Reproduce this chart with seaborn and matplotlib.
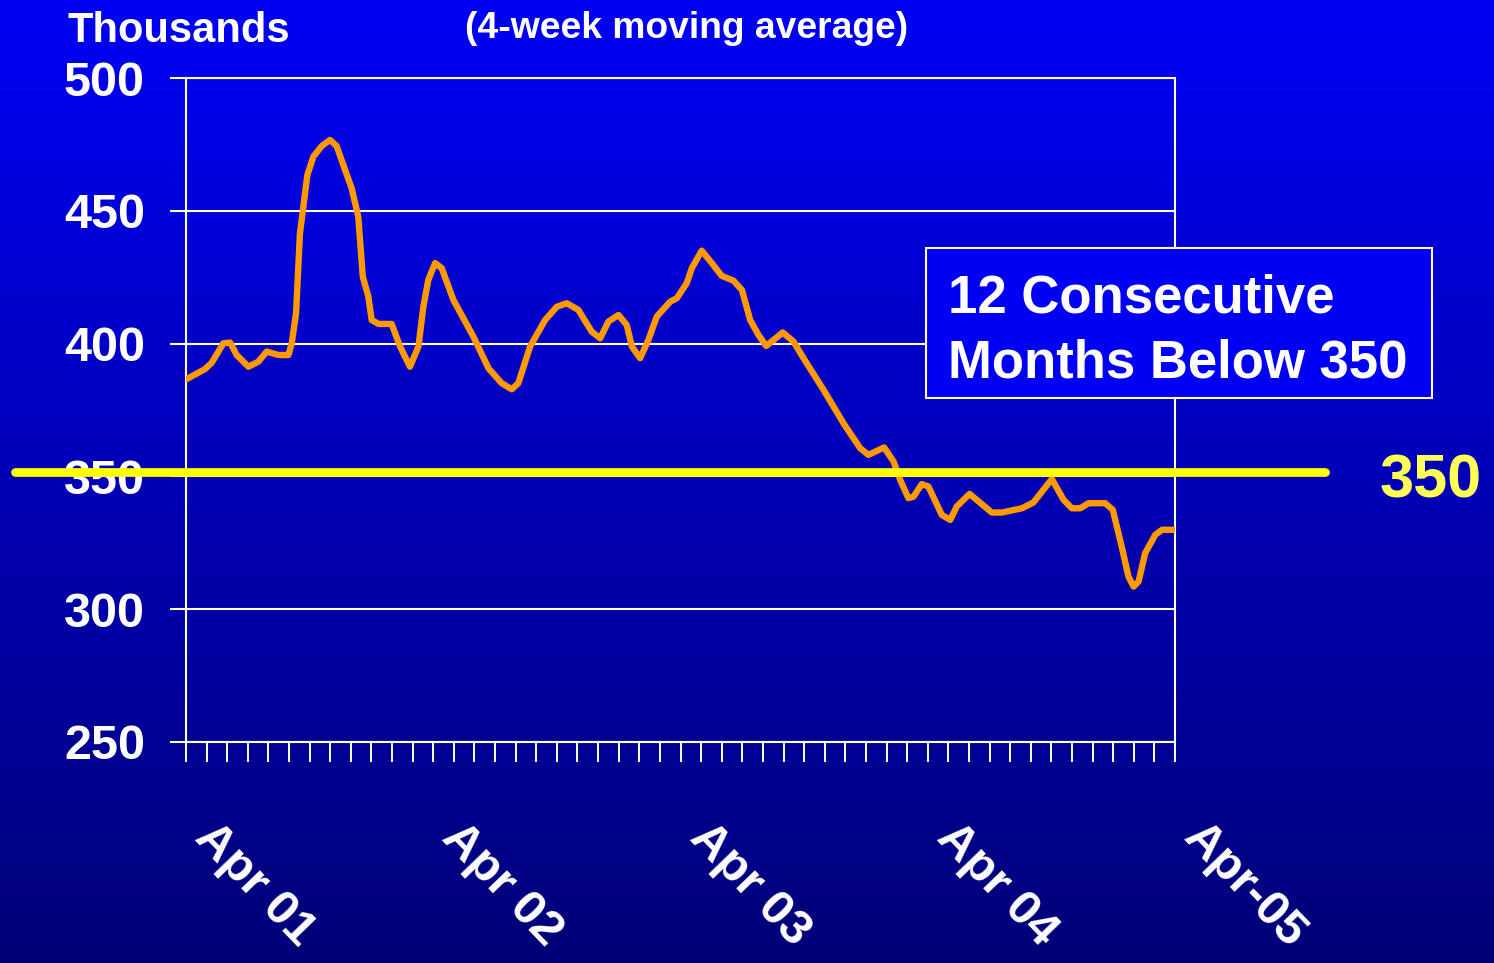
import numpy as np
import matplotlib
matplotlib.use("Agg")
import matplotlib.pyplot as plt
import seaborn as sns
from matplotlib.colors import LinearSegmentedColormap
from matplotlib.patches import Rectangle

# months since Apr 2001 and 4-week moving average of claims (thousands)
months = [0.0, 0.92, 1.25, 1.81, 2.14, 2.46, 3.03, 3.51, 3.92, 4.48, 4.97, 5.13, 5.34, 5.53,
          5.89, 6.18, 6.59, 6.99, 7.31, 7.72, 8.04, 8.36, 8.58, 8.85, 9.01, 9.34, 9.98, 10.39,
          10.87, 11.28, 11.52, 11.76, 12.09, 12.41, 12.98, 13.95, 14.68, 15.32, 15.81, 16.13,
          16.70, 17.43, 18.0, 18.48, 19.04, 19.69, 20.10, 20.50, 20.99, 21.39, 21.64, 22.04,
          22.44, 22.85, 23.50, 23.82, 24.30, 24.55, 25.03, 25.52, 26.0, 26.57, 26.98, 27.38,
          27.78, 28.16, 28.96, 29.48, 29.97, 30.94, 31.91, 32.72, 33.12, 33.88, 34.34, 34.66,
          35.06, 35.31, 35.71, 36.03, 36.68, 37.09, 37.41, 38.03, 38.46, 39.11, 39.60, 40.57,
          41.13, 42.02, 42.59, 42.99, 43.40, 43.80, 44.61, 44.98, 45.41, 45.74, 45.99, 46.23,
          46.55, 47.04, 47.37, 48.0]
claims = [386.5, 390.4, 392.8, 400.1, 400.4, 395.7, 391.3, 393.2, 397.0, 395.7, 395.7, 400.1,
          411.4, 441.5, 463.5, 470.4, 474.4, 476.7, 474.4, 465.4, 458.5, 447.8, 425.2, 417.7,
          408.9, 407.4, 407.4, 398.9, 391.3, 398.9, 413.9, 424.0, 430.3, 428.4, 416.4, 402.6,
          390.7, 385.1, 382.8, 385.1, 398.9, 408.9, 413.9, 415.2, 412.7, 404.5, 402.0, 408.3,
          410.8, 407.0, 398.9, 394.5, 401.4, 410.2, 415.8, 417.1, 422.7, 428.4, 435.0, 430.3,
          425.5, 423.7, 420.2, 408.9, 403.3, 399.1, 404.2, 400.8, 394.5, 382.6, 370.0, 360.6,
          358.1, 360.9, 355.6, 348.7, 341.8, 342.4, 347.1, 346.2, 335.5, 333.6, 338.7, 343.4,
          340.6, 336.4, 336.4, 338.0, 340.2, 349.0, 341.2, 338.0, 338.0, 339.9, 339.9, 337.4,
          323.6, 312.3, 308.5, 310.4, 321.1, 328.0, 329.9, 329.9]

threshold = 351.5
year_ticks = [0, 12, 24, 36, 48]
year_labels = ["Apr 01", "Apr 02", "Apr 03", "Apr 04", "Apr-05"]
y_ticks = [250, 300, 350, 400, 450, 500]

sns.set_style("ticks")
plt.rcParams["font.family"] = ["Liberation Sans", "DejaVu Sans"]

fig = plt.figure(figsize=(14.94, 9.63), dpi=100)

# blue gradient background
bg = fig.add_axes([0, 0, 1, 1], zorder=-10)
cmap = LinearSegmentedColormap.from_list("bluebg", ["#0000F5", "#000078"])
bg.imshow(np.linspace(0, 1, 256).reshape(-1, 1), aspect="auto", cmap=cmap,
          extent=[0, 1, 0, 1], origin="upper")
bg.axis("off")

ax = fig.add_axes([0.1245, 0.2295, 0.662, 0.6895])
ax.patch.set_alpha(0)

sns.lineplot(x=months, y=claims, ax=ax, color="#FF9900", linewidth=4.6, zorder=4)
ax.axhline(threshold, xmin=-0.173, xmax=1.152, color="#FFFF00", linewidth=6.3,
           clip_on=False, zorder=5)

ax.set_xlim(0, 48)
ax.set_ylim(250, 500)
ax.set_xlabel("")
ax.set_ylabel("")

ax.yaxis.grid(True, color="white", linewidth=1.5)
ax.xaxis.grid(False)
for s in ax.spines.values():
    s.set_color("white")
    s.set_linewidth(1.5)
    s.set_visible(True)

ax.set_yticks(y_ticks, labels=[str(t) for t in y_ticks], fontsize=35,
              fontweight="bold")
ax.tick_params(axis="y", direction="out", length=11.5, width=1.5, color="white",
               pad=18, labelcolor="white")

ax.set_xticks(range(49), minor=True)
ax.set_xticks(year_ticks, labels=year_labels, fontsize=35, fontweight="bold")
ax.tick_params(axis="x", which="both", direction="out", length=14.4, width=1.4,
               color="white")
ax.tick_params(axis="x", which="major", pad=38, labelcolor="white",
               labelrotation=-46)
for lbl in ax.get_xticklabels():
    lbl.set_ha("left")
    lbl.set_va("top")

# annotation box
fig.add_artist(Rectangle((0.6198, 0.5867), 0.3387, 0.1558, transform=fig.transFigure,
                         facecolor="#0000F5", edgecolor="white", linewidth=1.5, zorder=10))
fig.text(0.6345, 0.675, "12 Consecutive", color="white", fontsize=38,
         fontweight="bold", va="baseline", ha="left", zorder=11)
fig.text(0.6345, 0.6085, "Months Below 350", color="white", fontsize=38,
         fontweight="bold", va="baseline", ha="left", zorder=11)

fig.text(0.0455, 0.9564, "Thousands", color="white", fontsize=30,
         fontweight="bold", va="baseline", ha="left")
fig.text(0.3112, 0.9605, "(4-week moving average)", color="white", fontsize=26.8,
         fontweight="bold", va="baseline", ha="left")
fig.text(0.9237, 0.4839, "350", color="#FFFF55", fontsize=44, fontweight="bold",
         va="baseline", ha="left")

fig.savefig("out.png", dpi=100)
